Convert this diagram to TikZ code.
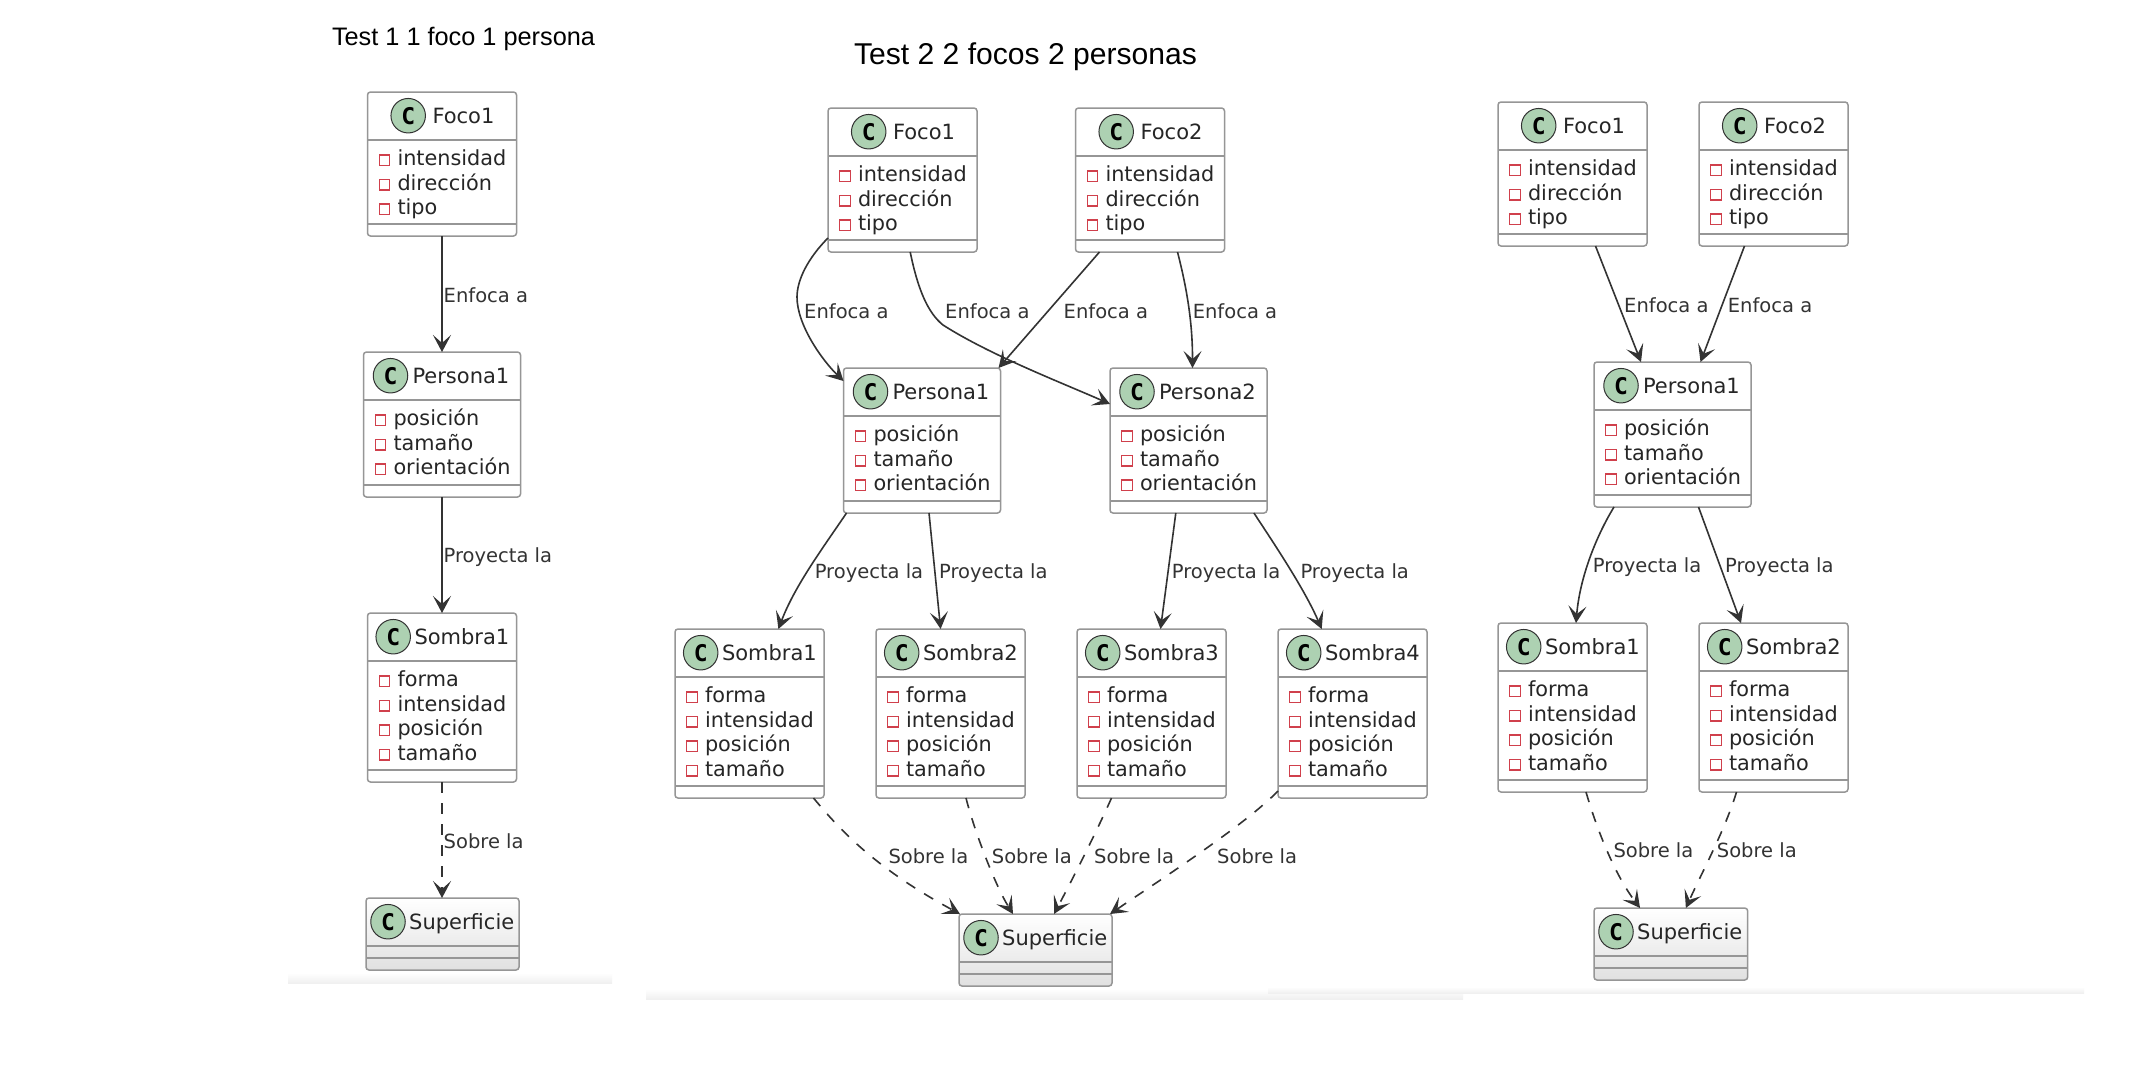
\documentclass[tikz,border=0pt]{standalone}
\usepackage{fontspec}
\setmainfont{DejaVu Sans}
\newfontfamily\titlefont{Liberation Sans}
\newfontfamily\markfont{DejaVu Sans Mono}
\usetikzlibrary{arrows.meta,calc}
\definecolor{boxline}{HTML}{969696}
\definecolor{edgeink}{HTML}{333333}
\definecolor{txtink}{HTML}{262626}
\definecolor{circfill}{HTML}{ADD1B2}
\definecolor{attrred}{HTML}{D0404C}
\tikzset{
  classbox/.style={draw=boxline,line width=1.5pt,rounded corners=3pt,inner sep=0pt,outer sep=0pt,fill=white},
  divider/.style={draw=boxline,line width=1.5pt},
  classmark/.style={circle,draw=edgeink,line width=1pt,fill=circfill,minimum size=34.5pt,inner sep=0pt,text=black,font=\markfont\bfseries\fontsize{23}{26}\selectfont},
  classtitle/.style={anchor=base west,inner sep=0pt,text=txtink,font=\fontsize{21}{24}\selectfont},
  attrtext/.style={anchor=base west,inner sep=0pt,text=txtink,font=\fontsize{20.8}{24}\selectfont},
  attrmark/.style={draw=attrred,line width=1.4pt,minimum size=10.5pt,inner sep=0pt},
  edgelabel/.style={anchor=west,inner sep=0pt,text=edgeink,font=\fontsize{19.5}{22}\selectfont},
  headtitle/.style={inner sep=0pt,text=black},
  link/.style={draw=edgeink,line width=1.6pt,-{Stealth[length=17pt,width=18pt,inset=8pt]}},
  linkd/.style={link,dash pattern=on 10.5pt off 10.5pt},
  strip/.style={top color=white,bottom color=black!6,draw=none},
}
% id, x0, y0, x1, height, circle offset, text offset, title, attributes
\newcommand{\umlclass}[9]{%
  \node[classbox,minimum width={(#4-#2)*1pt},minimum height={#5*1pt}] (#1) at ({(#2+#4)/2},{#3+#5/2}) {};
  \draw[divider] ({#2},{#3+48}) -- ({#4},{#3+48});
  \draw[divider] ({#2},{#3+#5-12}) -- ({#4},{#3+#5-12});
  \node[classmark] (#1-c) at ({#2+#6},{#3+23.7}) {C};
  \node[classtitle] (#1-t) at ({#2+#7-1.2},{#3+31.5}) {#8};
  \foreach \t [count=\i from 0] in {#9} {
    \node[attrmark] (#1-m\i) at ({#2+17},{#3+48+20.3+24.5*\i}) {};
    \node[attrtext] (#1-a\i) at ({#2+29.8},{#3+48+25.5+24.5*\i}) {\t};
  }
}
\newcommand{\umlempty}[5]{%
  \node[classbox,top color=white,middle color=white,bottom color=black!12,minimum width={(#4-#2)*1pt},minimum height={72pt}] (#1) at ({(#2+#4)/2},{#3+36}) {};
  \draw[divider] ({#2},{#3+48}) -- ({#4},{#3+48});
  \draw[divider] ({#2},{#3+60}) -- ({#4},{#3+60});
  \node[classmark] (#1-c) at ({#2+22},{#3+23.7}) {C};
  \node[classtitle] (#1-t) at ({#2+43},{#3+31.5}) {#5};
}
\newcommand{\focobox}[4]{\umlclass{#1}{#2}{#3}{#2+149}{144}{40.7}{66}{#4}{intensidad,dirección,tipo}}
\newcommand{\personabox}[4]{\umlclass{#1}{#2}{#3}{#2+157}{145}{27}{50}{#4}{posición,tamaño,orientación}}
\newcommand{\sombrabox}[4]{\umlclass{#1}{#2}{#3}{#2+149}{169}{25.7}{48}{#4}{forma,intensidad,posición,tamaño}}
\begin{document}
\begin{tikzpicture}[x=1pt,y=-1pt]
\useasboundingbox (0,0) rectangle (2156,1080);
\fill[white] (0,0) rectangle (2156,1080);
% fading strips
\fill[strip] (288,973) rectangle (612,983);
\fill[strip] (646,989) rectangle (1463,999);
\fill[strip] (1268,987) rectangle (2084,993);
% titles
\node[headtitle,font=\titlefont\fontsize{25.3}{28}\selectfont] (title1) at (463.5,38.5) {Test 1 1 foco 1 persona};
\node[headtitle,font=\titlefont\fontsize{30.1}{34}\selectfont] (title2) at (1025.5,57) {Test 2 2 focos 2 personas};

% ---------- diagram 1
\focobox{af}{367.5}{92}{Foco1}
\personabox{ap}{363.5}{352}{Persona1}
\sombrabox{as}{367.5}{613}{Sombra1}
\umlempty{asu}{366}{898}{519}{Superficie}
\draw[link] (af.south) -- (ap.north);
\draw[link] (ap.south) -- (as.north);
\draw[linkd] (as.south) -- ($(asu.north)+(-0.5,0)$);
\node[edgelabel] (al1) at (443.5,295) {Enfoca a};
\node[edgelabel] (al2) at (443.5,557) {Proyecta la};
\node[edgelabel] (al3) at (443.5,841) {Sobre la};

% ---------- diagram 2
\focobox{bf1}{828}{108}{Foco1}
\focobox{bf2}{1075.5}{108}{Foco2}
\personabox{bp1}{843.5}{368}{Persona1}
\personabox{bp2}{1110}{368}{Persona2}
\sombrabox{bs1}{675}{629}{Sombra1}
\sombrabox{bs2}{876}{629}{Sombra2}
\sombrabox{bs3}{1077}{629}{Sombra3}
\sombrabox{bs4}{1278}{629}{Sombra4}
\umlempty{bsu}{959}{914}{1112}{Superficie}
\draw[link] ($(bf1.south west)+(0,-14)$) .. controls (808,258) and (797,280) .. (797,297) .. controls (797,325) and (822,360) .. ($(bp1.north west)+(0,13)$);
\draw[link] ($(bf1.south)+(7.7,0)$) .. controls (918,290) and (928,313) .. (943,325) .. controls (990,355) and (1060,382) .. ($(bp2.north west)+(0,36)$);
\draw[link] ($(bf2.south west)+(24,0)$) -- ($(bp1.north east)+(-2,0)$);
\draw[link] ($(bf2.south)+(27.5,0)$) .. controls (1186,285) and (1192.6,320) .. ($(bp2.north)+(4,0)$);
\draw[link] ($(bp1.south west)+(3,0)$) .. controls (825,545) and (795,585) .. ($(bs1.north)+(28.9,0)$);
\draw[link] ($(bp1.south)+(7,0)$) -- ($(bs2.north)+(-9.9,0)$);
\draw[link] ($(bp2.south)+(-12.7,0)$) -- ($(bs3.north)+(9,0)$);
\draw[link] ($(bp2.south)+(65.4,0)$) .. controls (1275,545) and (1305,590) .. ($(bs4.north)+(-30.8,0)$);
\draw[linkd] ($(bs1.south)+(64,0)$) .. controls (840,830) and (875,868) .. ($(bsu.north west)+(1,0)$);
\draw[linkd] ($(bs2.south)+(15.5,0)$) .. controls (974,830) and (995,885) .. ($(bsu.north)+(-22.5,0)$);
\draw[linkd] ($(bs3.south)+(-40,0)$) .. controls (1095,835) and (1072,880) .. ($(bsu.north)+(18.5,0)$);
\draw[linkd] ($(bs4.south west)+(0,-7)$) .. controls (1245,825) and (1160,880) .. ($(bsu.north east)+(-2,0)$);
\node[edgelabel] (bl1) at (804,311) {Enfoca a};
\node[edgelabel] (bl2) at (945,311) {Enfoca a};
\node[edgelabel] (bl3) at (1063.5,311) {Enfoca a};
\node[edgelabel] (bl4) at (1192.6,311) {Enfoca a};
\node[edgelabel] (bl5) at (814.6,573) {Proyecta la};
\node[edgelabel] (bl6) at (939,573) {Proyecta la};
\node[edgelabel] (bl7) at (1171.7,573) {Proyecta la};
\node[edgelabel] (bl8) at (1300.3,573) {Proyecta la};
\node[edgelabel] (bl9) at (888.3,856.5) {Sobre la};
\node[edgelabel] (bl10) at (991.7,856.5) {Sobre la};
\node[edgelabel] (bl11) at (1094,856.5) {Sobre la};
\node[edgelabel] (bl12) at (1217,856.5) {Sobre la};

% ---------- diagram 3
\focobox{cf1}{1498}{102}{Foco1}
\focobox{cf2}{1699}{102}{Foco2}
\personabox{cp}{1594}{362}{Persona1}
\sombrabox{cs1}{1498}{623}{Sombra1}
\sombrabox{cs2}{1699}{623}{Sombra2}
\umlempty{csu}{1594}{908}{1747.7}{Superficie}
\draw[link] ($(cf1.south)+(23,0)$) -- ($(cp.north)+(-31.5,0)$);
\draw[link] ($(cf2.south)+(-29,0)$) -- ($(cp.north)+(28,0)$);
\draw[link] ($(cp.south west)+(20,0)$) .. controls (1598,533) and (1580,575) .. ($(cs1.north)+(3.5,0)$);
\draw[link] ($(cp.south)+(26,0)$) -- ($(cs2.north)+(-32.5,0)$);
\draw[linkd] ($(cs1.south)+(13.5,0)$) .. controls (1597,830) and (1615,875) .. ($(csu.north)+(-30.8,0)$);
\draw[linkd] ($(cs2.south)+(-37,0)$) .. controls (1725,830) and (1703,870) .. ($(csu.north)+(15,0)$);
\node[edgelabel] (cl1) at (1624,305) {Enfoca a};
\node[edgelabel] (cl2) at (1727.7,305) {Enfoca a};
\node[edgelabel] (cl3) at (1592.7,567) {Proyecta la};
\node[edgelabel] (cl4) at (1725,567) {Proyecta la};
\node[edgelabel] (cl5) at (1613.3,850.5) {Sobre la};
\node[edgelabel] (cl6) at (1716.7,850.5) {Sobre la};
\end{tikzpicture}
\end{document}
